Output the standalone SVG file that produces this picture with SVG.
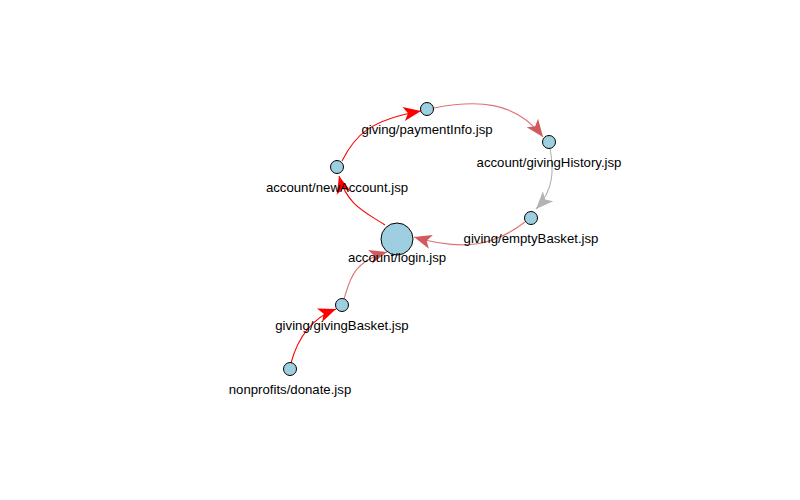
<svg xmlns="http://www.w3.org/2000/svg" width="800" height="500" viewBox="0 0 800 500">
<style>
.e{fill:none;stroke-width:1.1}
.red{stroke:#ff0000}
.ir{stroke:#d9595c;stroke-opacity:0.85}
.gr{stroke:#b3b3b3}
.n{fill:#9ecfe0;stroke:#000;stroke-width:1}
.t{font-family:"Liberation Sans",Arial,sans-serif;font-size:13.2px;fill:#000;text-anchor:middle}
</style>
<defs>
<marker id="aRed" markerUnits="userSpaceOnUse" markerWidth="22" markerHeight="22" viewBox="-18 -9 20 18" refX="0" refY="0" orient="auto"><path d="M0,0 L-16,-6.5 L-12,0 L-16,6.5 Z" fill="#ff0000"/></marker>
<marker id="aIr" markerUnits="userSpaceOnUse" markerWidth="22" markerHeight="22" viewBox="-18 -9 20 18" refX="0" refY="0" orient="auto"><path d="M0,0 L-16,-6.5 L-12,0 L-16,6.5 Z" fill="#d05a5c"/></marker>
<marker id="aGr" markerUnits="userSpaceOnUse" markerWidth="22" markerHeight="22" viewBox="-18 -9 20 18" refX="0" refY="0" orient="auto"><path d="M0,0 L-16,-6.5 L-12,0 L-16,6.5 Z" fill="#b3b3b3"/></marker>
</defs>
<rect width="800" height="500" fill="#ffffff"/>
<g id="connectors">
<path class="e red" d="M291,363 Q302,322 336,309" marker-end="url(#aRed)"/>
<path class="e ir" d="M344,299 C350,280 352,262 387,252" marker-end="url(#aIr)"/>
<path class="e red" d="M385,225 C365,212 347,205 339,176" marker-end="url(#aRed)"/>
<path class="e red" d="M342,161 C355,135 370,120 421,111" marker-end="url(#aRed)"/>
<path class="e ir" d="M434,108 C475,100 515,100 543,137" marker-end="url(#aIr)"/>
<path class="e gr" d="M550,148 C554,170 554,190 536,209" marker-end="url(#aGr)"/>
<path class="e ir" d="M525,222 C495,245 465,252 414,237" marker-end="url(#aIr)"/>
</g>
<g id="node-paymentInfo"><circle class="n" cx="427" cy="109" r="6.5"/><text class="t" x="427" y="134">giving/paymentInfo.jsp</text></g>
<g id="node-givingHistory"><circle class="n" cx="549" cy="142" r="6.5"/><text class="t" x="549" y="167">account/givingHistory.jsp</text></g>
<g id="node-newAccount"><circle class="n" cx="337" cy="167" r="6.5"/><text class="t" x="337" y="192">account/newAccount.jsp</text></g>
<g id="node-emptyBasket"><circle class="n" cx="531" cy="218" r="6.5"/><text class="t" x="531" y="243">giving/emptyBasket.jsp</text></g>
<g id="node-login"><circle class="n" cx="397" cy="239" r="16"/><text class="t" x="397" y="262">account/login.jsp</text></g>
<g id="node-givingBasket"><circle class="n" cx="342" cy="305" r="6.5"/><text class="t" x="342" y="330">giving/givingBasket.jsp</text></g>
<g id="node-donate"><circle class="n" cx="290" cy="369" r="6.5"/><text class="t" x="290" y="394">nonprofits/donate.jsp</text></g>
</svg>
